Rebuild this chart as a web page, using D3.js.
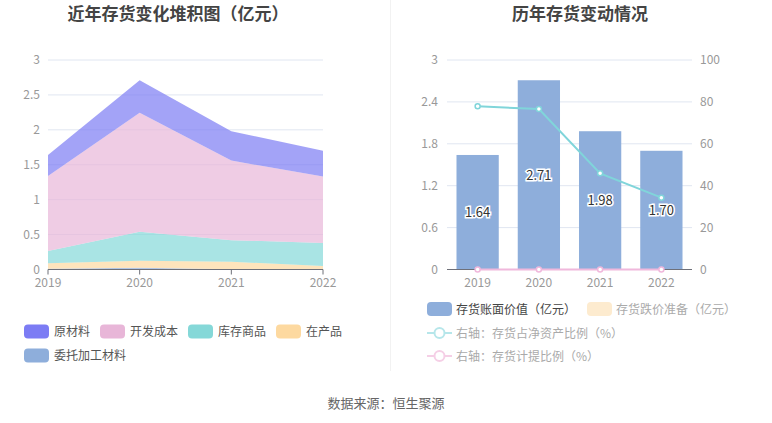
<!DOCTYPE html>
<html><head><meta charset="utf-8">
<script src="https://cdn.jsdelivr.net/npm/d3@7/dist/d3.min.js"></script>
<style>
body{margin:0;background:#fff;font-family:"Noto Sans CJK SC","Noto Sans",sans-serif;}
svg text{font-family:"Noto Sans CJK SC","Noto Sans",sans-serif;}
</style></head>
<body><svg id="c" width="772" height="423"></svg>
<script>
const years = ["2019","2020","2021","2022"];
// stacked inventory components (亿元)
const rawMaterial = [0.30, 0.465, 0.42, 0.37];      // 原材料
const devCost = [1.075, 1.705, 1.14, 0.95];          // 开发成本
const stockGoods = [0.175, 0.415, 0.31, 0.33];       // 库存商品
const wip = [0.08, 0.10, 0.105, 0.05];               // 在产品
const consigned = [0.01, 0.025, 0.005, 0.0];         // 委托加工材料
const leftTicks = [0, 0.5, 1, 1.5, 2, 2.5, 3];
// right chart
const bookValue = [1.64, 2.71, 1.98, 1.70];           // 存货账面价值
const impairment = [0, 0, 0, 0];                     // 存货跌价准备
const ratioNetAsset = [77.9, 76.6, 45.9, 34.3];      // 存货占净资产比例
const provisionRatio = [0, 0, 0, 0];                 // 存货计提比例
const rightLeftTicks = [0, 0.6, 1.2, 1.8, 2.4, 3];
const rightRightTicks = [0, 20, 40, 60, 80, 100];

const svg = d3.select("#c");
const gridColor = "#e0e6f1", labelColor = "#999", axisColor = "#6e7079";

// titles
svg.append("text").attr("x",178).attr("y",20).attr("text-anchor","middle")
  .attr("font-size",17).attr("font-weight","bold").attr("fill","#444").text("近年存货变化堆积图（亿元）");
svg.append("text").attr("x",580).attr("y",20).attr("text-anchor","middle")
  .attr("font-size",17).attr("font-weight","bold").attr("fill","#444").text("历年存货变动情况");
// divider
svg.append("line").attr("x1",390.5).attr("x2",390.5).attr("y1",0).attr("y2",371).attr("stroke","#f2f2f2").attr("stroke-width",1);

// ---------- left stacked area ----------
const xL = d3.scalePoint().domain(years).range([48,323]);
const yL = d3.scaleLinear().domain([0,3]).range([269.5,60]);
const gL = svg.append("g");
gL.selectAll(".g").data(leftTicks).join("line")
  .attr("x1",48).attr("x2",323).attr("y1",d=>yL(d)).attr("y2",d=>yL(d))
  .attr("stroke",gridColor);
gL.selectAll(".yl").data(leftTicks).join("text")
  .attr("x",40).attr("y",d=>yL(d)+4).attr("text-anchor","end")
  .attr("font-size",12).attr("fill",labelColor).text(d=>d);

const table = years.map((y,i)=>({year:y, consigned:consigned[i], wip:wip[i], stockGoods:stockGoods[i], devCost:devCost[i], rawMaterial:rawMaterial[i]}));
const keys = ["consigned","wip","stockGoods","devCost","rawMaterial"];
const areaColors = {consigned:"#8eaedb", wip:"#fdd9a0", stockGoods:"#85d8d8", devCost:"#e8b6d8", rawMaterial:"#7c7cf4"};
const stack = d3.stack().keys(keys)(table);
const area = d3.area().x(d=>xL(d.data.year)).y0(d=>yL(d[0])).y1(d=>yL(d[1]));
gL.selectAll(".a").data(stack).join("path")
  .attr("d",area).attr("fill",d=>areaColors[d.key]).attr("fill-opacity",0.7);

gL.append("line").attr("x1",48).attr("x2",323).attr("y1",269.5).attr("y2",269.5).attr("stroke",axisColor);
gL.selectAll(".xt").data(years).join("line")
  .attr("x1",d=>xL(d)).attr("x2",d=>xL(d)).attr("y1",269.5).attr("y2",274.5).attr("stroke",axisColor);
gL.selectAll(".xl").data(years).join("text")
  .attr("x",d=>xL(d)).attr("y",287).attr("text-anchor","middle")
  .attr("font-size",12).attr("fill",labelColor).text(d=>d);

// left legend
const legL = [
  {name:"原材料",color:"#7c7cf4",x:24,y:331.5},
  {name:"开发成本",color:"#e8b6d8",x:100,y:331.5},
  {name:"库存商品",color:"#85d8d8",x:188,y:331.5},
  {name:"在产品",color:"#fdd9a0",x:276,y:331.5},
  {name:"委托加工材料",color:"#8eaedb",x:24,y:355.5}
];
legL.forEach(l=>{
  svg.append("rect").attr("x",l.x).attr("y",l.y-7).attr("width",25).attr("height",14).attr("rx",4).attr("fill",l.color);
  svg.append("text").attr("x",l.x+30).attr("y",l.y+4.5).attr("font-size",12).attr("fill","#555").text(l.name);
});

// ---------- right bar+line ----------
const xR = d3.scaleBand().domain(years).range([447,692]).paddingInner(0.31).paddingOuter(0.155);
const yR = d3.scaleLinear().domain([0,3]).range([269.5,60]);
const yR2 = d3.scaleLinear().domain([0,100]).range([269.5,60]);
const gR = svg.append("g");
gR.selectAll(".g").data(rightLeftTicks).join("line")
  .attr("x1",447).attr("x2",692).attr("y1",d=>yR(d)).attr("y2",d=>yR(d)).attr("stroke",gridColor);
gR.selectAll(".yl").data(rightLeftTicks).join("text")
  .attr("x",438).attr("y",d=>yR(d)+4).attr("text-anchor","end")
  .attr("font-size",12).attr("fill",labelColor).text(d=>d);
gR.selectAll(".yr").data(rightRightTicks).join("text")
  .attr("x",700).attr("y",d=>yR2(d)+4).attr("text-anchor","start")
  .attr("font-size",12).attr("fill",labelColor).text(d=>d);

gR.selectAll(".b").data(bookValue).join("rect")
  .attr("x",(d,i)=>xR(years[i])).attr("width",xR.bandwidth())
  .attr("y",d=>yR(d)).attr("height",d=>yR(0)-yR(d))
  .attr("fill","#8eaedb");
gR.selectAll(".b2").data(impairment).join("rect")
  .attr("x",(d,i)=>xR(years[i])).attr("width",xR.bandwidth())
  .attr("y",(d,i)=>yR(bookValue[i]+d)).attr("height",(d,i)=>yR(bookValue[i])-yR(bookValue[i]+d))
  .attr("fill","#fde9c8");

gR.append("line").attr("x1",447).attr("x2",692).attr("y1",269.5).attr("y2",269.5).attr("stroke",axisColor);
gR.selectAll(".xl").data(years).join("text")
  .attr("x",d=>xR(d)+xR.bandwidth()/2).attr("y",287).attr("text-anchor","middle")
  .attr("font-size",12).attr("fill",labelColor).text(d=>d);

// bar labels
gR.selectAll(".bl").data(bookValue).join("text")
  .attr("x",(d,i)=>xR(years[i])+xR.bandwidth()/2).attr("y",d=>(yR(d)+yR(0))/2+5)
  .attr("text-anchor","middle").attr("font-size",13)
  .attr("fill","#333").attr("stroke","#fff").attr("stroke-width",3).attr("paint-order","stroke")
  .text(d=>d.toFixed(2));

const cx = d=>xR(d)+xR.bandwidth()/2;
const line1 = d3.line().x((d,i)=>cx(years[i])).y(d=>yR2(d));
gR.append("path").attr("d",line1(ratioNetAsset)).attr("fill","none").attr("stroke","#80d5da").attr("stroke-width",2);
gR.selectAll(".p1").data(ratioNetAsset).join("circle")
  .attr("cx",(d,i)=>cx(years[i])).attr("cy",d=>yR2(d)).attr("r",2.5)
  .attr("fill","#fff").attr("stroke","#80d5da").attr("stroke-width",1.5);
gR.append("path").attr("d",line1(provisionRatio)).attr("fill","none").attr("stroke","#f0b8dc").attr("stroke-width",2);
gR.selectAll(".p2").data(provisionRatio).join("circle")
  .attr("cx",(d,i)=>cx(years[i])).attr("cy",d=>yR2(d)).attr("r",2.5)
  .attr("fill","#fff").attr("stroke","#f0b8dc").attr("stroke-width",1.5);

// right legend
const legR = [
  {name:"存货账面价值（亿元）",color:"#8eaedb",x:427,y:309,type:"rect",tc:"#444"},
  {name:"存货跌价准备（亿元）",color:"#fdebcf",x:587,y:309,type:"rect",tc:"#aaa"},
  {name:"右轴：存货占净资产比例（%）",color:"#b6e6ea",x:427,y:333,type:"line",tc:"#aaa"},
  {name:"右轴：存货计提比例（%）",color:"#f5cfe6",x:427,y:356,type:"line",tc:"#aaa"}
];
legR.forEach(l=>{
  if(l.type==="rect"){
    svg.append("rect").attr("x",l.x).attr("y",l.y-7).attr("width",25).attr("height",14).attr("rx",4).attr("fill",l.color);
  } else {
    svg.append("line").attr("x1",l.x).attr("x2",l.x+25).attr("y1",l.y).attr("y2",l.y).attr("stroke",l.color).attr("stroke-width",2);
    svg.append("circle").attr("cx",l.x+12.5).attr("cy",l.y).attr("r",5).attr("fill","#fff").attr("stroke",l.color).attr("stroke-width",2);
  }
  svg.append("text").attr("x",l.x+29).attr("y",l.y+4.5).attr("font-size",12).attr("fill",l.tc).text(l.name);
});

// footer
svg.append("text").attr("x",386).attr("y",408).attr("text-anchor","middle")
  .attr("font-size",13).attr("fill","#666").text("数据来源：恒生聚源");
</script></body></html>
